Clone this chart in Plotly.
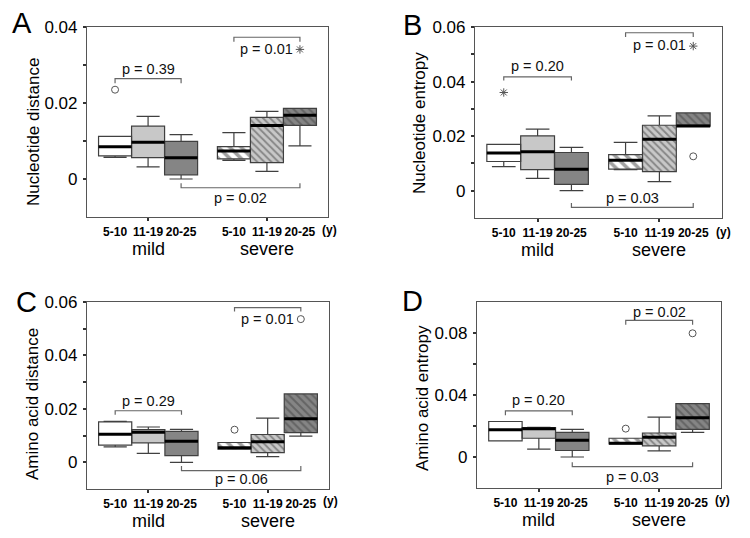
import plotly.graph_objects as go

# ---------------- data ----------------
positions = [0, 1, 2, 3.6, 4.6, 5.6]
age_labels = ["5-10", "11-19", "20-25", "5-10", "11-19", "20-25"]
group_labels = ["mild", "severe"]
group_centers = [1, 4.6]

fill_colors = ["#ffffff", "#c8c8c8", "#858585", "#ffffff", "#c8c8c8", "#858585"]
hatch_shapes = ["", "", "", "\\", "\\", "\\"]
hatch_colors = ["#000000", "#000000", "#000000", "#000000", "#f6f6f6", "#bcbcbc"]
hatch_sizes = [8, 8, 8, 8, 5, 5.5]
hatch_solidity = [0.3, 0.3, 0.3, 0.45, 0.38, 0.38]

# Panel A : Nucleotide distance
A_q1 = [0.0061, 0.0056, 0.0011, 0.0053, 0.0043, 0.0141]
A_med = [0.0085, 0.0097, 0.0056, 0.0074, 0.0141, 0.0168]
A_q3 = [0.0112, 0.0139, 0.0099, 0.0085, 0.0162, 0.0186]
A_lo = [0.0057, 0.0032, 0.0000, 0.0049, 0.0020, 0.0087]
A_hi = [0.0112, 0.0165, 0.0117, 0.0122, 0.0178, 0.0186]
A_out_idx = [0, 5]
A_out_y = [0.0235, 0.0341]
A_out_sym = ["circle-open", "asterisk-open"]
A_br_from = [0, 3, 2]
A_br_to = [2, 5, 5]
A_br_level = [0.0264, 0.0373, -0.0023]
A_br_tip = [0.0252, 0.0361, -0.0011]
A_p_text = ["p = 0.39", "p = 0.01", "p = 0.02"]
A_p_y = [0.0290, 0.0341, -0.0050]

# Panel B : Nucleotide entropy
B_q1 = [0.0107, 0.0077, 0.0023, 0.0079, 0.0070, 0.0237]
B_med = [0.0138, 0.0143, 0.0079, 0.0112, 0.0189, 0.0237]
B_q3 = [0.0170, 0.0201, 0.0140, 0.0132, 0.0240, 0.0285]
B_lo = [0.0088, 0.0045, 0.0000, 0.0077, 0.0033, 0.0237]
B_hi = [0.0170, 0.0226, 0.0159, 0.0177, 0.0274, 0.0285]
B_out_idx = [0, 5, 5]
B_out_y = [0.0360, 0.0126, 0.0530]
B_out_sym = ["asterisk-open", "circle-open", "asterisk-open"]
B_br_from = [0, 3, 2]
B_br_to = [2, 5, 5]
B_br_level = [0.0417, 0.0579, -0.0061]
B_br_tip = [0.0404, 0.0563, -0.0045]
B_p_text = ["p = 0.20", "p = 0.01", "p = 0.03"]
B_p_y = [0.0457, 0.0533, -0.0027]

# Panel C : Amino acid distance
C_q1 = [0.0064, 0.0073, 0.0025, 0.0049, 0.0036, 0.0111]
C_med = [0.0105, 0.0112, 0.0079, 0.0054, 0.0077, 0.0163]
C_q3 = [0.0151, 0.0122, 0.0116, 0.0074, 0.0104, 0.0256]
C_lo = [0.0058, 0.0033, 0.0000, 0.0049, 0.0021, 0.0098]
C_hi = [0.0153, 0.0132, 0.0123, 0.0074, 0.0165, 0.0256]
C_out_idx = [3, 5]
C_out_y = [0.0122, 0.0536]
C_out_sym = ["circle-open", "circle-open"]
C_br_from = [0, 3, 2]
C_br_to = [2, 5, 5]
C_br_level = [0.0193, 0.0579, -0.0031]
C_br_tip = [0.0178, 0.0564, -0.0014]
C_p_text = ["p = 0.29", "p = 0.01", "p = 0.06"]
C_p_y = [0.0231, 0.0536, -0.0062]

# Panel D : Amino acid entropy
D_q1 = [0.0104, 0.0121, 0.0042, 0.0085, 0.0072, 0.0178]
D_med = [0.0176, 0.0183, 0.0108, 0.0089, 0.0127, 0.0253]
D_q3 = [0.0229, 0.0189, 0.0159, 0.0121, 0.0155, 0.0344]
D_lo = [0.0104, 0.0051, 0.0000, 0.0085, 0.0040, 0.0159]
D_hi = [0.0229, 0.0191, 0.0178, 0.0121, 0.0257, 0.0344]
D_out_idx = [3, 5]
D_out_y = [0.0183, 0.0798]
D_out_sym = ["circle-open", "circle-open"]
D_br_from = [0, 3, 2]
D_br_to = [2, 5, 5]
D_br_level = [0.0297, 0.0881, -0.0062]
D_br_tip = [0.0270, 0.0853, -0.0034]
D_p_text = ["p = 0.20", "p = 0.02", "p = 0.03"]
D_p_y = [0.0365, 0.0938, -0.0129]

# ---------------- layout geometry (screen pixels) ----------------
OFF = 8                       # default page margin around the plot div
W, H = 750 - 2 * OFF, 538 - 2 * OFF
FONT = "Arial, Liberation Sans, sans-serif"


def px(x):
    return (x - OFF) / W


def py(y):
    return 1 - (y - OFF) / H


panels = [
    dict(letter="A", title="Nucleotide distance", q1=A_q1, med=A_med, q3=A_q3, lo=A_lo, hi=A_hi,
         out_idx=A_out_idx, out_y=A_out_y, out_sym=A_out_sym, br_from=A_br_from, br_to=A_br_to,
         br_level=A_br_level, br_tip=A_br_tip, p_text=A_p_text, p_y=A_p_y,
         box=(87, 328, 27, 217), yrange=[-0.01, 0.04], ytick=[0, 0.02, 0.04], yminor=[0.01, 0.03],
         letter_xy=(22, 23), title_xy=(33, 132), group_y=249, unit_y=230),
    dict(letter="B", title="Nucleotide entropy", q1=B_q1, med=B_med, q3=B_q3, lo=B_lo, hi=B_hi,
         out_idx=B_out_idx, out_y=B_out_y, out_sym=B_out_sym, br_from=B_br_from, br_to=B_br_to,
         br_level=B_br_level, br_tip=B_br_tip, p_text=B_p_text, p_y=B_p_y,
         box=(475, 722, 27, 218), yrange=[-0.01, 0.06], ytick=[0, 0.02, 0.04, 0.06], yminor=[0.01, 0.03, 0.05],
         letter_xy=(412, 25), title_xy=(420, 123), group_y=250, unit_y=232),
    dict(letter="C", title="Amino acid distance", q1=C_q1, med=C_med, q3=C_q3, lo=C_lo, hi=C_hi,
         out_idx=C_out_idx, out_y=C_out_y, out_sym=C_out_sym, br_from=C_br_from, br_to=C_br_to,
         br_level=C_br_level, br_tip=C_br_tip, p_text=C_p_text, p_y=C_p_y,
         box=(87, 329, 302, 489), yrange=[-0.01, 0.06], ytick=[0, 0.02, 0.04, 0.06], yminor=[0.01, 0.03, 0.05],
         letter_xy=(26, 302), title_xy=(32, 404), group_y=521, unit_y=501),
    dict(letter="D", title="Amino acid entropy", q1=D_q1, med=D_med, q3=D_q3, lo=D_lo, hi=D_hi,
         out_idx=D_out_idx, out_y=D_out_y, out_sym=D_out_sym, br_from=D_br_from, br_to=D_br_to,
         br_level=D_br_level, br_tip=D_br_tip, p_text=D_p_text, p_y=D_p_y,
         box=(477, 721, 302, 488), yrange=[-0.02, 0.10], ytick=[0, 0.04, 0.08], yminor=[0.02, 0.06],
         letter_xy=(412, 301), title_xy=(422, 398), group_y=520, unit_y=500),
]

BOX_W = 1.0
XRANGE = [-0.85, 6.45]

fig = go.Figure()
annotations = []
shapes = []
layout_axes = {}

for i, p in enumerate(panels):
    n = "" if i == 0 else str(i + 1)
    xa, ya = "x" + n, "y" + n
    x0, x1, y0, y1 = p["box"]

    # coloured / hatched box fills
    fig.add_trace(go.Bar(
        x=positions, y=[b - a for a, b in zip(p["q1"], p["q3"])], base=p["q1"],
        width=BOX_W, xaxis=xa, yaxis=ya, showlegend=False, hoverinfo="skip",
        marker=dict(color=fill_colors, line=dict(width=0),
                    pattern=dict(shape=hatch_shapes, fgcolor=hatch_colors, bgcolor=fill_colors,
                                 fillmode="overlay", size=hatch_sizes, solidity=hatch_solidity)),
    ))
    # box outlines and whiskers
    fig.add_trace(go.Box(
        x=positions, q1=p["q1"], median=p["med"], q3=p["q3"],
        lowerfence=p["lo"], upperfence=p["hi"], width=BOX_W, whiskerwidth=0.7,
        fillcolor="rgba(0,0,0,0)", line=dict(color="#404040", width=1.2),
        boxpoints=False, xaxis=xa, yaxis=ya, showlegend=False, hoverinfo="skip",
    ))
    # thick medians
    mx, my = [], []
    for pos, m in zip(positions, p["med"]):
        mx += [pos - BOX_W / 2, pos + BOX_W / 2, None]
        my += [m, m, None]
    fig.add_trace(go.Scatter(x=mx, y=my, mode="lines", line=dict(color="#000000", width=3),
                             xaxis=xa, yaxis=ya, showlegend=False, hoverinfo="skip"))
    # outliers
    fig.add_trace(go.Scatter(
        x=[positions[k] for k in p["out_idx"]], y=p["out_y"], mode="markers",
        marker=dict(symbol=p["out_sym"], size=7, color="#555555", line=dict(color="#555555", width=1)),
        xaxis=xa, yaxis=ya, showlegend=False, hoverinfo="skip",
    ))

    # brackets with p-values
    for a, b, lev, tip, txt, ty in zip(p["br_from"], p["br_to"], p["br_level"], p["br_tip"],
                                       p["p_text"], p["p_y"]):
        xa_, xb_ = positions[a], positions[b]
        shapes.append(dict(type="path", xref=xa, yref=ya,
                           path=f"M {xa_},{tip} L {xa_},{lev} L {xb_},{lev} L {xb_},{tip}",
                           line=dict(color="#666666", width=1.2)))
        annotations.append(dict(x=(xa_ + xb_) / 2, y=ty, xref=xa, yref=ya, text=txt, showarrow=False,
                                xanchor="center", yanchor="middle",
                                font=dict(size=14.5, color="#111111", family=FONT)))

    # axes
    layout_axes["xaxis" + n] = dict(
        domain=[px(x0), px(x1)], range=XRANGE, anchor=ya, automargin=False,
        tickmode="array", tickvals=positions, ticktext=age_labels, ticks="", tickangle=0,
        tickfont=dict(size=12, color="#000000", family=FONT, weight="bold"),
        ticklabelstandoff=3,
        minor=dict(tickvals=group_centers, ticks="outside", ticklen=3, tickcolor="#333333", tickwidth=2),
        showline=True, mirror=True, linecolor="#555555", linewidth=1.2,
        showgrid=False, zeroline=False, fixedrange=True,
    )
    layout_axes["yaxis" + n] = dict(
        domain=[py(y1), py(y0)], range=p["yrange"], anchor=xa, automargin=False,
        tickmode="array", tickvals=p["ytick"], ticks="outside", ticklen=3, tickwidth=2, tickcolor="#333333",
        minor=dict(tickvals=p["yminor"], ticks="outside", ticklen=3, tickwidth=2, tickcolor="#333333"),
        tickfont=dict(size=17, color="#000000", family=FONT), ticklabelstandoff=2,
        showline=True, mirror=True, linecolor="#555555", linewidth=1.2,
        showgrid=False, zeroline=False, fixedrange=True,
    )

    # panel letter, axis title, group labels, unit
    annotations.append(dict(x=px(p["letter_xy"][0]), y=py(p["letter_xy"][1]), xref="paper", yref="paper",
                            xanchor="center", yanchor="middle",
                            text=p["letter"], showarrow=False, font=dict(size=29, color="#000000", family=FONT)))
    annotations.append(dict(x=px(p["title_xy"][0]), y=py(p["title_xy"][1]), xref="paper", yref="paper",
                            xanchor="center", yanchor="middle",
                            text=p["title"], textangle=-90, showarrow=False,
                            font=dict(size=17, color="#000000", family=FONT)))
    for g, c in zip(group_labels, group_centers):
        annotations.append(dict(x=c, y=py(p["group_y"]), xref=xa, yref="paper", text=g,
                                xanchor="center", yanchor="middle",
                                showarrow=False, font=dict(size=18, color="#000000", family=FONT)))
    annotations.append(dict(x=positions[-1] + 0.6, y=py(p["unit_y"]), xref=xa, yref="paper",
                            text="(y)", xanchor="left", yanchor="middle", showarrow=False,
                            font=dict(size=12, color="#000000", family=FONT, weight="bold")))

fig.update_layout(
    template="none",
    width=W, height=H, margin=dict(l=0, r=0, t=0, b=0, autoexpand=False),
    paper_bgcolor="white", plot_bgcolor="white",
    font=dict(family=FONT, color="#000000"),
    showlegend=False, annotations=annotations, shapes=shapes,
    **layout_axes,
)

fig.write_html("out.html")
